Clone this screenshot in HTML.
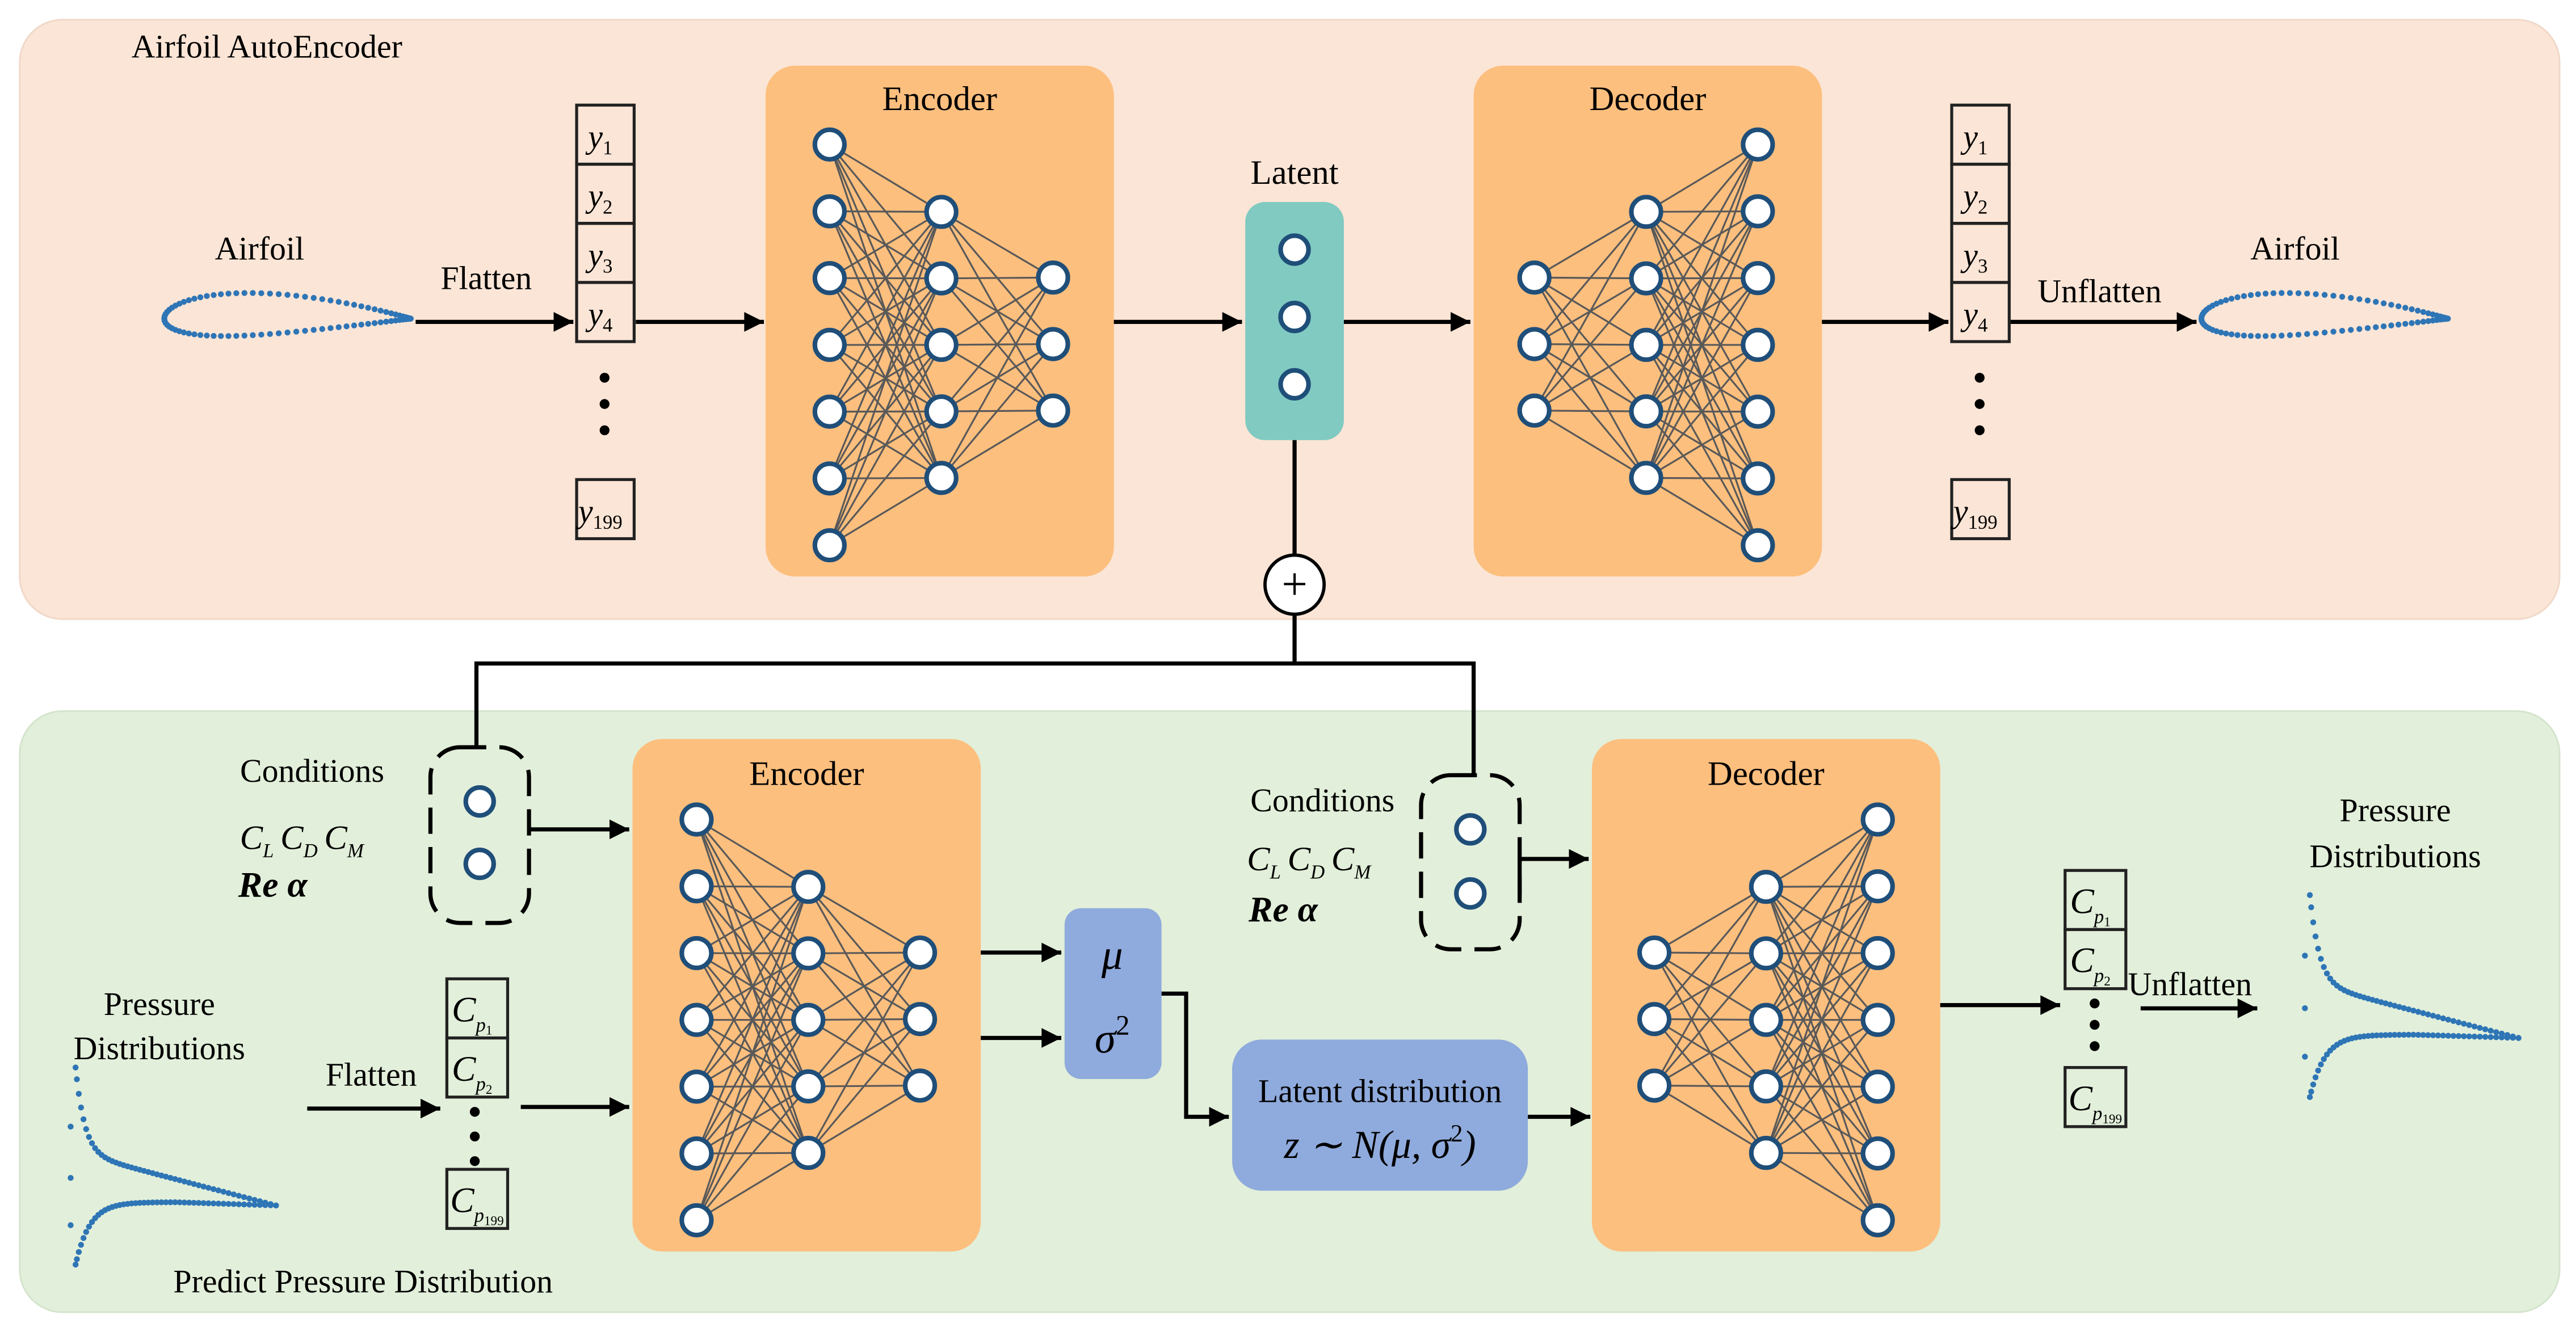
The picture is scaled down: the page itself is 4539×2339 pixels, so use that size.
<!DOCTYPE html>
<html><head><meta charset="utf-8"><style>
html,body{margin:0;padding:0;background:#fff;}
svg{display:block;}
text{font-family:"Liberation Serif",serif;fill:#000;}
</style></head><body>
<svg id="s" width="4539" height="2339" viewBox="0 0 1568 808" preserveAspectRatio="none" xmlns="http://www.w3.org/2000/svg">
<defs>
<marker id="a2" viewBox="0 0 10 10" markerWidth="14" markerHeight="12" refX="10" refY="5" orient="auto" markerUnits="userSpaceOnUse"><path d="M0,0 L10,5 L0,10 z" fill="#000"/></marker></defs>
<rect width="1568" height="808" fill="#fff"/>
<rect x="12" y="12" width="1546" height="365" rx="26" fill="#fbe5d6" stroke="#f0d8c8"/>
<rect x="12" y="433" width="1546" height="366" rx="26" fill="#e2efda" stroke="#d4e4cc"/>
<text x="80" y="35" font-size="20">Airfoil AutoEncoder</text>

<rect x="466" y="40" width="212" height="311" rx="18" fill="#fdbf7e"/>
<rect x="897" y="40" width="212" height="311" rx="18" fill="#fdbf7e"/>
<rect x="385" y="450" width="212" height="312" rx="18" fill="#fdbf7e"/>
<rect x="969" y="450" width="212" height="312" rx="18" fill="#fdbf7e"/>
<text x="572" y="67" font-size="21" text-anchor="middle">Encoder</text>
<text x="1003" y="67" font-size="21" text-anchor="middle">Decoder</text>
<text x="491" y="478" font-size="21" text-anchor="middle">Encoder</text>
<text x="1075" y="478" font-size="21" text-anchor="middle">Decoder</text>

<rect x="758" y="123" width="60" height="145" rx="12" fill="#80cac2"/>
<text x="788" y="112" font-size="21" text-anchor="middle">Latent</text>

<g id="net"></g>
<g id="dots" fill="#2e75b6"></g>

<g stroke="#000" stroke-width="2.5" fill="none">
<line x1="253" y1="196" x2="349" y2="196" marker-end="url(#a2)"/>
<line x1="387" y1="196" x2="465" y2="196" marker-end="url(#a2)"/>
<line x1="678" y1="196" x2="756" y2="196" marker-end="url(#a2)"/>
<line x1="818" y1="196" x2="895" y2="196" marker-end="url(#a2)"/>
<line x1="1109" y1="196" x2="1186" y2="196" marker-end="url(#a2)"/>
<line x1="1223" y1="196" x2="1337" y2="196" marker-end="url(#a2)"/>
<line x1="788" y1="268" x2="788" y2="338"/>
<line x1="788" y1="374" x2="788" y2="404"/>
<polyline points="290,455 290,404 897,404 897,472"/>
<line x1="322" y1="505" x2="383" y2="505" marker-end="url(#a2)"/>
<polyline points="925,545 925,523 967,523" marker-end="url(#a2)"/>
<line x1="597" y1="580" x2="646" y2="580" marker-end="url(#a2)"/>
<line x1="597" y1="632" x2="646" y2="632" marker-end="url(#a2)"/>
<polyline points="707,605 722,605 722,680 748,680" marker-end="url(#a2)"/>
<line x1="930" y1="680" x2="968" y2="680" marker-end="url(#a2)"/>
<line x1="187" y1="675" x2="268" y2="675" marker-end="url(#a2)"/>
<line x1="317" y1="674" x2="383" y2="674" marker-end="url(#a2)"/>
<line x1="1181" y1="612" x2="1254" y2="612" marker-end="url(#a2)"/>
<line x1="1303" y1="614" x2="1374" y2="614" marker-end="url(#a2)"/>
</g>
<circle cx="788" cy="356" r="18" fill="#fff" stroke="#000" stroke-width="2"/>
<text x="788" y="365" font-size="28" text-anchor="middle" font-family="Liberation Sans">+</text>

<rect x="262" y="455" width="60" height="107" rx="18" fill="none" stroke="#000" stroke-width="2.5" stroke-dasharray="16,8"/>
<rect x="865" y="472" width="60" height="106" rx="18" fill="none" stroke="#000" stroke-width="2.5" stroke-dasharray="16,8"/>

<rect x="648" y="553" width="59" height="104" rx="10" fill="#8faadc"/>
<text x="677" y="590" font-size="26" text-anchor="middle" font-family="DejaVu Serif" font-style="italic">μ</text>
<text x="677" y="641" font-size="26" text-anchor="middle" font-family="DejaVu Serif" font-style="italic">σ<tspan font-style="normal" font-size="17" dy="-11">2</tspan></text>
<rect x="750" y="633" width="180" height="92" rx="18" fill="#8faadc"/>
<text x="840" y="671" font-size="20" text-anchor="middle">Latent distribution</text>
<text x="840" y="705" font-size="24" text-anchor="middle" font-family="DejaVu Serif" font-style="italic">z ∼ N(μ, σ<tspan font-style="normal" font-size="15" dy="-10">2</tspan><tspan dy="10">)</tspan></text>

<g stroke="#222" stroke-width="1.8" fill="none">
<rect x="351" y="64" width="35" height="36"/><rect x="351" y="100" width="35" height="36"/><rect x="351" y="136" width="35" height="36"/><rect x="351" y="172" width="35" height="36"/><rect x="351" y="292" width="35" height="36"/>
<rect x="1188" y="64" width="35" height="36"/><rect x="1188" y="100" width="35" height="36"/><rect x="1188" y="136" width="35" height="36"/><rect x="1188" y="172" width="35" height="36"/><rect x="1188" y="292" width="35" height="36"/>
<rect x="272" y="596" width="37" height="36"/><rect x="272" y="632" width="37" height="36"/><rect x="272" y="712" width="37" height="36"/>
<rect x="1257" y="530" width="37" height="36"/><rect x="1257" y="566" width="37" height="36"/><rect x="1257" y="650" width="37" height="36"/>
</g>
<g fill="#000">
<circle cx="368" cy="230" r="3"/><circle cx="368" cy="246" r="3"/><circle cx="368" cy="262" r="3"/>
<circle cx="1205" cy="230" r="3"/><circle cx="1205" cy="246" r="3"/><circle cx="1205" cy="262" r="3"/>
<circle cx="289" cy="677" r="3"/><circle cx="289" cy="692" r="3"/><circle cx="289" cy="707" r="3"/>
<circle cx="1275" cy="611" r="3"/><circle cx="1275" cy="624" r="3"/><circle cx="1275" cy="637" r="3"/>
</g>
<g font-size="20" font-style="italic">
<text x="358" y="90">y<tspan font-size="12" font-style="normal" dy="4">1</tspan></text>
<text x="358" y="126">y<tspan font-size="12" font-style="normal" dy="4">2</tspan></text>
<text x="358" y="162">y<tspan font-size="12" font-style="normal" dy="4">3</tspan></text>
<text x="358" y="198">y<tspan font-size="12" font-style="normal" dy="4">4</tspan></text>
<text x="352" y="318">y<tspan font-size="12" font-style="normal" dy="4">199</tspan></text>
<text x="1195" y="90">y<tspan font-size="12" font-style="normal" dy="4">1</tspan></text>
<text x="1195" y="126">y<tspan font-size="12" font-style="normal" dy="4">2</tspan></text>
<text x="1195" y="162">y<tspan font-size="12" font-style="normal" dy="4">3</tspan></text>
<text x="1195" y="198">y<tspan font-size="12" font-style="normal" dy="4">4</tspan></text>
<text x="1189" y="318">y<tspan font-size="12" font-style="normal" dy="4">199</tspan></text>
<text x="275" y="622" font-size="22">C<tspan font-size="12" dy="6">p</tspan><tspan font-size="8" font-style="normal" dy="2">1</tspan></text>
<text x="275" y="658" font-size="22">C<tspan font-size="12" dy="6">p</tspan><tspan font-size="8" font-style="normal" dy="2">2</tspan></text>
<text x="274" y="738" font-size="22">C<tspan font-size="12" dy="6">p</tspan><tspan font-size="8" font-style="normal" dy="2">199</tspan></text>
<text x="1260" y="556" font-size="22">C<tspan font-size="12" dy="6">p</tspan><tspan font-size="8" font-style="normal" dy="2">1</tspan></text>
<text x="1260" y="592" font-size="22">C<tspan font-size="12" dy="6">p</tspan><tspan font-size="8" font-style="normal" dy="2">2</tspan></text>
<text x="1259" y="676" font-size="22">C<tspan font-size="12" dy="6">p</tspan><tspan font-size="8" font-style="normal" dy="2">199</tspan></text>
</g>
<g font-size="20">
<text x="158" y="158" text-anchor="middle">Airfoil</text>
<text x="1397" y="158" text-anchor="middle">Airfoil</text>
<text x="296" y="176" text-anchor="middle">Flatten</text>
<text x="1278" y="184" text-anchor="middle">Unflatten</text>
<text x="190" y="476" text-anchor="middle">Conditions</text>
<text x="805" y="494" text-anchor="middle">Conditions</text>
<text x="97" y="618" text-anchor="middle">Pressure</text>
<text x="97" y="645" text-anchor="middle">Distributions</text>
<text x="226" y="661" text-anchor="middle">Flatten</text>
<text x="221" y="787" text-anchor="middle">Predict Pressure Distribution</text>
<text x="1458" y="500" text-anchor="middle">Pressure</text>
<text x="1458" y="528" text-anchor="middle">Distributions</text>
<text x="1333" y="606" text-anchor="middle">Unflatten</text>
</g>
<g font-size="21" font-style="italic">
<text x="146" y="517">C<tspan font-size="12" dy="5">L</tspan><tspan dx="4" dy="-5">C</tspan><tspan font-size="12" dy="5">D</tspan><tspan dx="4" dy="-5">C</tspan><tspan font-size="12" dy="5">M</tspan></text>
<text x="759" y="530">C<tspan font-size="12" dy="5">L</tspan><tspan dx="4" dy="-5">C</tspan><tspan font-size="12" dy="5">D</tspan><tspan dx="4" dy="-5">C</tspan><tspan font-size="12" dy="5">M</tspan></text>
</g>
<text x="145" y="546" font-size="22" font-style="italic" font-weight="bold" font-family="DejaVu Sans">Re α</text>
<text x="760" y="561" font-size="22" font-style="italic" font-weight="bold" font-family="DejaVu Sans">Re α</text>
</svg>
<script>
var NS="http://www.w3.org/2000/svg";
var net=document.getElementById("net"),dots=document.getElementById("dots");
function el(t,a,p){var e=document.createElementNS(NS,t);for(var k in a)e.setAttribute(k,a[k]);p.appendChild(e);return e;}
function network(cols){
  var g=el("g",{},net);
  for(var i=0;i<cols.length-1;i++){var A=cols[i],B=cols[i+1];
    A.ys.forEach(function(ya){B.ys.forEach(function(yb){el("line",{x1:A.x,y1:ya,x2:B.x,y2:yb,stroke:"#595959","stroke-width":1.1},g);});});}
  cols.forEach(function(c){c.ys.forEach(function(y){el("circle",{cx:c.x,cy:y,r:9,fill:"#fff",stroke:"#1f4e79","stroke-width":2.8},g);});});
}
function ys(a,b,n){var r=[];for(var i=0;i<n;i++)r.push(a+(b-a)*i/(n-1));return r;}
network([{x:505,ys:ys(88,332,7)},{x:573,ys:ys(129,291,5)},{x:641,ys:ys(169,250,3)}]);
network([{x:934,ys:ys(169,250,3)},{x:1002,ys:ys(129,291,5)},{x:1070,ys:ys(88,332,7)}]);
network([{x:424,ys:ys(499,743,7)},{x:492,ys:ys(540,702,5)},{x:560,ys:ys(580,661,3)}]);
network([{x:1007,ys:ys(580,661,3)},{x:1075,ys:ys(540,702,5)},{x:1143,ys:ys(499,743,7)}]);
var g=el("g",{},net);
[[788,152],[788,193],[788,234],[292,488],[292,526],[895,505],[895,544]].forEach(function(p){el("circle",{cx:p[0],cy:p[1],r:8.5,fill:"#fff",stroke:"#1f4e79","stroke-width":2.8},g);});
// airfoils: thick teardrop, total height ~28
function airfoil(x0,c,yc){
  var n=44;for(var i=0;i<=n;i++){var b=Math.PI*i/n,x=(1-Math.cos(b))/2;
    var t=(0.2969*Math.sqrt(x)-0.126*x-0.3516*x*x+0.2843*x*x*x-0.1036*x*x*x*x)/0.1;
    var half=t*13;
    var cam=3*(1-Math.pow(2*x-1,2));
    var X=x0+x*c;
    el("circle",{cx:X,cy:yc-cam-half,r:1.8},dots);
    el("circle",{cx:X,cy:yc-cam+half,r:1.8},dots);}
}
airfoil(100,150,194);airfoil(1340,150,194);
function cp(x0,W,yTop,yMid,yBot){
  var n=48;
  for(var i=0;i<=n;i++){var x=Math.pow(i/n,1.3);
    var f=0.62*Math.exp(-x*22)+0.38*(1-x);
    el("circle",{cx:x0+3+x*W,cy:yMid-(yMid-yTop)*f,r:1.8},dots);
    var yl=yMid-2+(yBot-yMid+2)*Math.exp(-x*14)+ (x>0.5?(x-0.5)*4:0);
    el("circle",{cx:x0+3+x*W,cy:yl,r:1.8},dots);}
  var h=(yBot-yTop);
  [0.3,0.56,0.8].forEach(function(f){el("circle",{cx:x0,cy:yTop+h*f,r:1.8},dots);});
}
cp(43,122,650,734,770);cp(1403,127,545,632,668);
</script>
</body></html>
